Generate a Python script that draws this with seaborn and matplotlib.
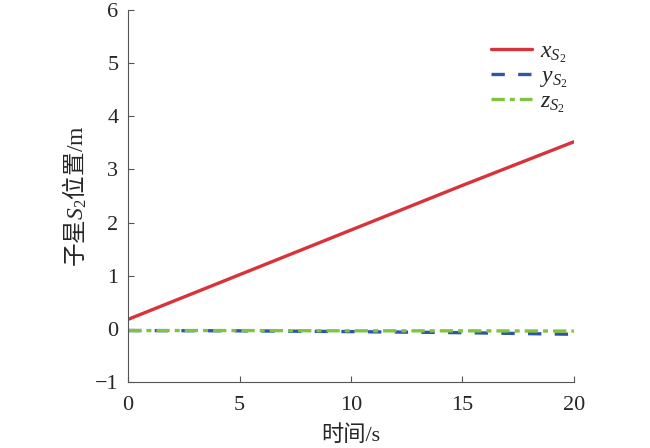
import numpy as np
import pandas as pd
import matplotlib
matplotlib.use("Agg")
import matplotlib.pyplot as plt
import seaborn as sns

# time (s) and position of sub-satellite S2 (m)
t = [0, 5, 10, 15, 20]
x_s2 = [0.18, 1.02, 1.86, 2.70, 3.52]
y_s2 = [-0.03, -0.035, -0.05, -0.07, -0.10]
z_s2 = [-0.03, -0.03, -0.035, -0.035, -0.04]

sns.set_style("ticks")
plt.rcParams['font.family'] = ['Liberation Serif', 'Noto Sans CJK SC']
# custom mathtext: rm -> CJK font, it -> Times-like italic, sf -> Times-like upright
plt.rcParams['mathtext.fontset'] = 'custom'
plt.rcParams['mathtext.rm'] = 'Noto Sans CJK SC'
plt.rcParams['mathtext.it'] = 'Liberation Serif:italic'
plt.rcParams['mathtext.sf'] = 'Liberation Serif'
plt.rcParams['xtick.direction'] = 'in'
plt.rcParams['ytick.direction'] = 'in'

fig = plt.figure(figsize=(6.5, 4.48), dpi=100)
ax = fig.add_axes([0.197, 0.147, 0.686, 0.831])

sns.lineplot(x=t, y=x_s2, ax=ax, color='#d7333a', linewidth=2.4, label=r'$x_{S_{\mathsf{2}}}$')
sns.lineplot(x=t, y=y_s2, ax=ax, color='#2f55a4', linewidth=2.4, linestyle=(0, (4, 4)),
             label=r'$y_{S_{\mathsf{2}}}$')
sns.lineplot(x=t, y=z_s2, ax=ax, color='#80c342', linewidth=2.4, linestyle=(0, (4, 1.5, 1.5, 1.5)),
             label=r'$z_{S_{\mathsf{2}}}$')

ax.set_xlim(0, 20)
ax.set_ylim(-1, 6)
ax.set_xticks([0, 5, 10, 15, 20])
ax.set_yticks(range(-1, 7))
ax.set_yticklabels(['\u22121', '0', '1', '2', '3', '4', '5', '6'])
ax.tick_params(labelsize=16, length=4, color='#555555')
ax.tick_params(axis='x', pad=10)
ax.tick_params(axis='y', pad=7)
for s in ['left', 'bottom']:
    ax.spines[s].set_color('#555555')
sns.despine(ax=ax)

ax.set_xlabel('时间/s', fontsize=16, labelpad=7)
ax.set_ylabel(r'$\mathrm{子星}S_{\mathsf{2}}\mathrm{位置}\mathsf{/m}$', fontsize=17, labelpad=4)

ax.legend(loc='upper right', bbox_to_anchor=(1.035, 0.975), frameon=False, fontsize=17,
          handlelength=1.75, handletextpad=0.35, labelspacing=0.05)

plt.savefig('out.png', dpi=100)
